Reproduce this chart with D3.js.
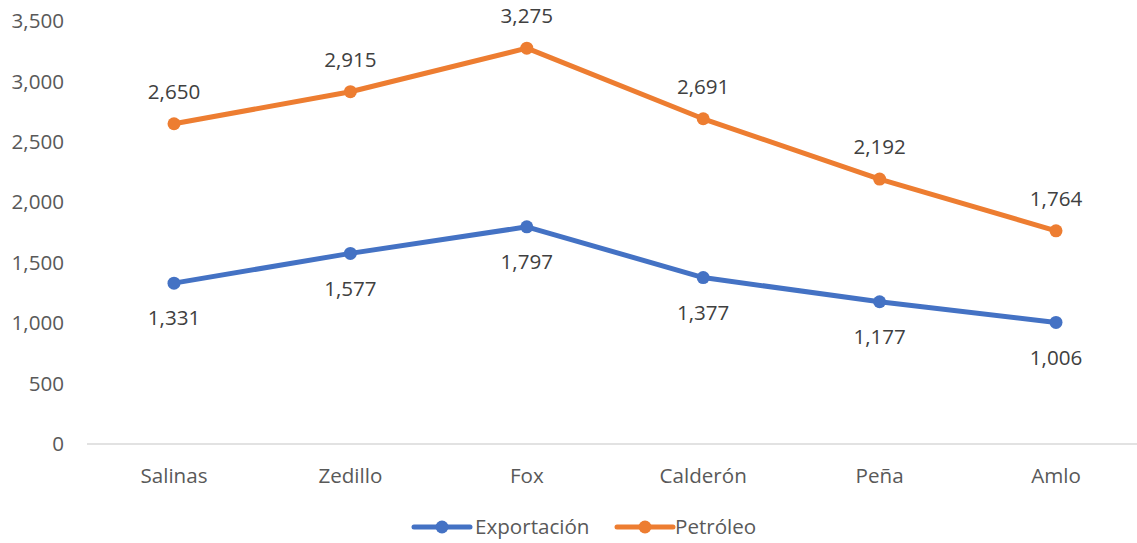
<!DOCTYPE html>
<html><head><meta charset="utf-8">
<script src="https://cdn.jsdelivr.net/npm/d3@7"></script>
<style>body{margin:0;background:#fff;}svg{display:block;font-family:"Open Sans",sans-serif;}</style>
</head><body><svg id="c" width="1137" height="543"></svg>
<script>
const categories = ["Salinas","Zedillo","Fox","Calderón","Peña","Amlo"];
const exportacion = [1331,1577,1797,1377,1177,1006];
const petroleo = [2650,2915,3275,2691,2192,1764];
const yTicks = [0,500,1000,1500,2000,2500,3000,3500];
const seriesNames = ["Exportación","Petróleo"];
const colors = ["#4472C4","#ED7D31"];

const svg = d3.select("#c");
const x = d3.scalePoint().domain(categories).range([174,1056]);
const y = d3.scaleLinear().domain([0,3500]).range([444,21]);
const fmt = d3.format(",");
const fs = 20.6;

// baseline
svg.append("line").attr("x1",87).attr("x2",1137).attr("y1",y(0)).attr("y2",y(0))
  .attr("stroke","#d9d9d9").attr("stroke-width",1.5);

// y tick labels
svg.append("g").selectAll("text").data(yTicks).join("text")
  .attr("x",64).attr("y",d=>y(d)).attr("dy","0.35em").attr("text-anchor","end")
  .attr("font-size",fs).attr("fill","#595959").text(d=>fmt(d));

// x labels
svg.append("g").selectAll("text").data(categories).join("text")
  .attr("x",d=>x(d)).attr("y",476).attr("dy","0.35em").attr("text-anchor","middle")
  .attr("font-size",fs).attr("fill","#595959").text(d=>d);

const series = [exportacion, petroleo];
const line = d3.line().x((d,i)=>x(categories[i])).y(d=>y(d));
series.forEach((s,k)=>{
  svg.append("path").datum(s).attr("d",line).attr("fill","none")
    .attr("stroke",colors[k]).attr("stroke-width",5).attr("stroke-linejoin","round").attr("stroke-linecap","round");
  svg.append("g").selectAll("circle").data(s).join("circle")
    .attr("cx",(d,i)=>x(categories[i])).attr("cy",d=>y(d)).attr("r",6.5).attr("fill",colors[k]);
  svg.append("g").selectAll("text").data(s).join("text")
    .attr("x",(d,i)=>x(categories[i])).attr("y",d=>y(d)+(k===0?35:-32)).attr("dy","0.35em")
    .attr("text-anchor","middle").attr("font-size",fs).attr("fill","#404040").text(d=>fmt(d));
});

// legend
const leg = [{x:414,tx:475},{x:617,tx:675}];
seriesNames.forEach((n,k)=>{
  const g = svg.append("g");
  g.append("line").attr("x1",leg[k].x).attr("x2",leg[k].x+56).attr("y1",527).attr("y2",527)
    .attr("stroke",colors[k]).attr("stroke-width",5).attr("stroke-linecap","round");
  g.append("circle").attr("cx",leg[k].x+28).attr("cy",527).attr("r",6.5).attr("fill",colors[k]);
  g.append("text").attr("x",leg[k].tx).attr("y",527).attr("dy","0.35em").attr("font-size",fs)
    .attr("fill","#595959").text(n);
});
</script></body></html>
